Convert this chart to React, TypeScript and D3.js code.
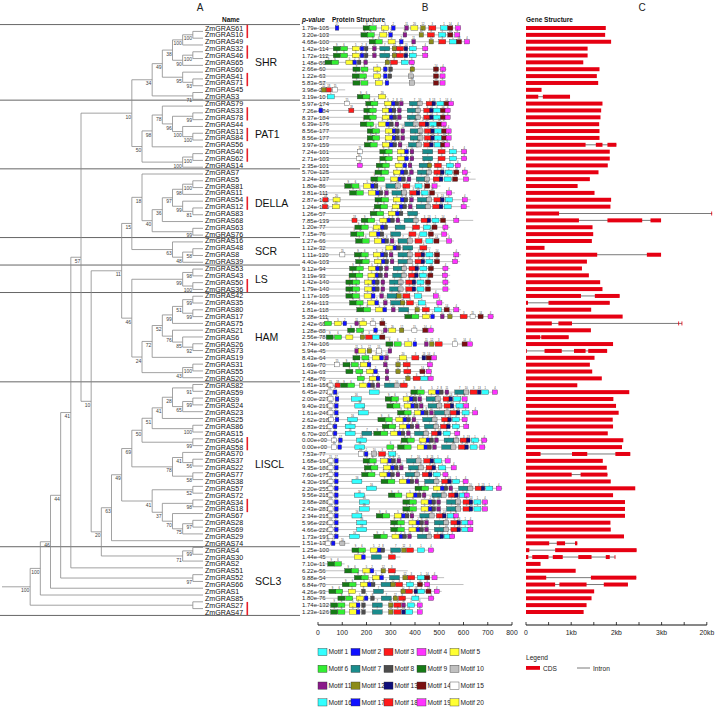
import React from "react";
import * as d3 from "d3";

const names = [
  "ZmGRAS61","ZmGRAS10","ZmGRAS49","ZmGRAS32","ZmGRAS46","ZmGRAS65","ZmGRAS60","ZmGRAS41","ZmGRAS71","ZmGRAS45","ZmGRAS3",
  "ZmGRAS79","ZmGRAS33","ZmGRAS78","ZmGRAS44","ZmGRAS13","ZmGRAS84","ZmGRAS56","ZmGRAS40","ZmGRAS62","ZmGRAS14",
  "ZmGRAS7","ZmGRAS5","ZmGRAS81","ZmGRAS11","ZmGRAS54","ZmGRAS12","ZmGRAS83","ZmGRAS68","ZmGRAS63","ZmGRAS76",
  "ZmGRAS16","ZmGRAS48","ZmGRAS8","ZmGRAS39",
  "ZmGRAS53","ZmGRAS43","ZmGRAS50","ZmGRAS36",
  "ZmGRAS42","ZmGRAS35","ZmGRAS80","ZmGRAS17","ZmGRAS75","ZmGRAS21","ZmGRAS6","ZmGRAS26","ZmGRAS73","ZmGRAS19","ZmGRAS31","ZmGRAS55","ZmGRAS20",
  "ZmGRAS82","ZmGRAS59","ZmGRAS9","ZmGRAS24","ZmGRAS23","ZmGRAS25","ZmGRAS86","ZmGRAS15","ZmGRAS64","ZmGRAS58","ZmGRAS70","ZmGRAS37","ZmGRAS22","ZmGRAS77","ZmGRAS38","ZmGRAS57","ZmGRAS72","ZmGRAS34","ZmGRAS18","ZmGRAS67","ZmGRAS28","ZmGRAS69","ZmGRAS29","ZmGRAS74",
  "ZmGRAS4","ZmGRAS30","ZmGRAS2","ZmGRAS51","ZmGRAS52","ZmGRAS66","ZmGRAS1","ZmGRAS85","ZmGRAS27","ZmGRAS47"
];

const pValues = [
  "1.79e-105","3.20e-103","4.68e-100","1.42e-114","1.72e-112","1.48e-86","2.66e-60","1.22e-63","5.83e-57","3.98e-20","3.19e-10",
  "5.97e-174","7.26e-184","8.37e-184","6.39e-176","8.56e-177","8.56e-177","3.97e-159","7.24e-101","2.71e-103","2.35e-101",
  "5.70e-125","3.24e-137","1.80e-86","3.81e-111","2.87e-148","1.24e-146","1.26e-57","7.85e-139","1.20e-77","7.15e-76",
  "1.27e-66","1.12e-32","1.11e-120","4.40e-103",
  "9.12e-94","3.19e-93","1.42e-140","1.79e-140",
  "1.17e-105","2.64e-113","1.81e-118","5.28e-111","2.42e-68","1.28e-88","2.56e-78","3.74e-106","5.94e-45","8.43e-64","1.69e-70","1.43e-63","7.48e-76",
  "1.81e-156","6.45e-272","2.00e-227","9.40e-219","1.61e-246","2.62e-218","2.83e-211","6.70e-203","0.00e+00","0.00e+00","7.53e-77","1.68e-194","4.35e-180","7.60e-175","4.30e-196","2.20e-255","9.56e-215","3.68e-280","2.43e-281","2.34e-215","5.96e-226","4.66e-226","1.73e-197","1.51e-13",
  "1.25e-100","1.44e-45","7.10e-11","6.22e-56","9.88e-54","6.84e-70","4.26e-93","1.80e-76","1.74e-132","1.23e-126"
];

const groupNames = ["SHR", "PAT1", "DELLA", "SCR", "LS", "HAM", "LISCL", "SCL3"];
const groupSizes = [11, 10, 10, 4, 4, 13, 24, 10];

const dupPairs = [
  ["ZmGRAS61","ZmGRAS10"],["ZmGRAS32","ZmGRAS46"],["ZmGRAS41","ZmGRAS71"],["ZmGRAS33","ZmGRAS78"],
  ["ZmGRAS13","ZmGRAS84"],["ZmGRAS40","ZmGRAS62"],["ZmGRAS54","ZmGRAS12"],["ZmGRAS50","ZmGRAS36"],
  ["ZmGRAS64","ZmGRAS58"],["ZmGRAS34","ZmGRAS18"],["ZmGRAS27","ZmGRAS47"]
];

// phylogeny (Newick, bootstrap values as internal labels)
const shrTree = "(((((ZmGRAS61,ZmGRAS10)100,ZmGRAS49)100,((ZmGRAS32,ZmGRAS46)100,ZmGRAS65)90)38,(ZmGRAS60,(ZmGRAS41,ZmGRAS71)93)95)49,(ZmGRAS45,ZmGRAS3)71)34";
const pat1Tree = "(((ZmGRAS79,((ZmGRAS33,ZmGRAS78)99,(ZmGRAS44,(ZmGRAS13,ZmGRAS84)100)100)96)78,ZmGRAS56)98,((ZmGRAS40,ZmGRAS62)100,ZmGRAS14)100)50";
const dellaTree = "(ZmGRAS7,(((((ZmGRAS5,ZmGRAS81)100,ZmGRAS11)98,(ZmGRAS54,(ZmGRAS12,ZmGRAS83)81)99)97,ZmGRAS68)36,(ZmGRAS63,ZmGRAS76)99)40)18";
const scrTree = "(ZmGRAS16,((ZmGRAS48,ZmGRAS8)58,ZmGRAS39)48)63";
const lsTree = "((ZmGRAS53,ZmGRAS43)98,(ZmGRAS50,ZmGRAS36)100)99";
const hamTree = "((((((ZmGRAS42,ZmGRAS35)99,(ZmGRAS80,ZmGRAS17)99)51,ZmGRAS75)99,(ZmGRAS21,(ZmGRAS6,(ZmGRAS26,ZmGRAS73)92)85)76)52,ZmGRAS19)72,((ZmGRAS31,ZmGRAS55)100,ZmGRAS20)43)24";
const lisclA = "((((((ZmGRAS82,ZmGRAS59)91,((ZmGRAS9,ZmGRAS24)99,ZmGRAS23)65)28,ZmGRAS25)41,(ZmGRAS86,ZmGRAS15)100)51,(ZmGRAS64,ZmGRAS58)99)50,((ZmGRAS70,(ZmGRAS37,ZmGRAS22)56)41,(ZmGRAS77,ZmGRAS38)58)78)69";
const lisclB = "((ZmGRAS57,ZmGRAS72)52,((ZmGRAS34,ZmGRAS18)98,(ZmGRAS67,((ZmGRAS28,ZmGRAS69)97,ZmGRAS29)75)70)37)41";
const scl3a = "((ZmGRAS4,ZmGRAS30)99,ZmGRAS2)71";
const newick =
  "((((((((" + shrTree + "," + pat1Tree + ")10,(((" + dellaTree + "," + scrTree + ")15,(" + lsTree + "," + hamTree + ")46)11,(((" +
  lisclA + "," + lisclB + ")49,ZmGRAS74)63," + scl3a + ")20)10)57,ZmGRAS51)41,(ZmGRAS52,ZmGRAS66)97)44,ZmGRAS1)46,ZmGRAS85)100,(ZmGRAS27,ZmGRAS47))100";

// protein lengths (aa) and motif positions (motif:start)
const proteinLengths = [
  590,586,627,455,455,400,530,525,525,112,285,560,545,545,530,550,550,545,615,615,590,
  630,650,505,565,630,625,420,640,545,540,560,465,590,585,545,545,545,545,505,520,590,725,
  285,480,300,640,305,490,475,470,475,373,742,615,622,660,615,622,585,700,692,330,545,570,
  540,620,760,625,700,700,580,640,640,565,130,480,340,110,370,520,600,510,480,430,430
];

const motifSites = [
  "17:71 9:186 6:211 5:262 2:303 11:358 20:383 12:424 3:457 1:505 14:535 4:567",
  "9:177 6:203 5:255 2:292 11:351 12:417 3:451 1:498 14:535 4:564",
  "9:211 6:236 5:289 2:336 11:387 12:458 3:498 1:542 14:571 4:604",
  "9:63 6:93 5:141 2:174 8:191 11:225 7:255 12:306 3:324 13:355 1:376 4:432",
  "9:63 6:93 5:141 2:174 8:191 11:225 7:255 12:306 3:324 13:355 1:376 4:432",
  "9:29 6:56 5:115 2:144 8:162 11:189 12:277 3:299 1:343 4:376",
  "9:144 6:177 5:230 2:270 8:292 12:380 14:476 4:505",
  "9:141 6:171 5:230 2:270 8:289 10:373 14:476 4:503",
  "9:144 6:177 5:236 2:277 10:377 14:476 4:503",
  "12:15 18:34 15:60",
  "1:38 9:162 6:185 20:250",
  "15:109 9:197 6:218 5:274 2:303 8:318 11:336 7:377 10:409 3:446 13:470 1:490 14:520 4:538",
  "17:4 18:127 9:189 6:211 5:265 2:292 8:306 11:328 7:368 10:402 3:436 13:460 1:476 14:505 4:524",
  "9:189 6:211 5:265 2:295 8:309 11:328 7:368 10:402 3:436 13:460 1:476 14:505 4:524",
  "9:174 6:200 5:250 2:280 8:295 11:318 7:358 10:392 3:417 13:442 1:461 14:490 4:508",
  "9:203 6:225 5:277 2:306 8:320 11:342 7:380 10:412 3:439 13:465 1:480 14:510 4:528",
  "9:203 6:225 5:277 2:306 8:320 11:342 7:380 10:412 3:439 13:465 1:480 14:510 4:528",
  "9:191 6:215 5:265 2:295 8:309 11:331 7:373 10:405 3:436 13:460 1:480 14:505 4:522",
  "15:162 9:255 6:277 5:328 2:358 11:380 7:432 3:495 1:542 4:592",
  "15:159 9:255 6:277 5:328 2:358 11:380 7:432 3:495 1:542 4:592",
  "19:162 9:240 6:265 5:318 2:351 11:372 7:417 12:451 3:480 1:530 4:566",
  "9:235 6:262 5:310 2:340 8:355 11:378 7:410 10:448 3:478 13:505 1:525 14:560 4:595",
  "9:218 6:245 5:300 2:330 8:345 11:368 7:405 10:440 3:475 13:500 1:520 14:555 4:600",
  "9:110 6:140 5:188 2:218 8:232 7:280 10:318 3:350 1:400 14:440 4:470",
  "9:130 6:158 5:208 2:238 8:252 11:275 7:305 10:345 3:378 13:405 1:425 14:460 4:530",
  "18:20 20:62 9:235 6:262 5:310 2:340 8:355 11:378 7:410 10:448 3:478 13:505 1:525 4:595",
  "18:18 20:60 9:232 6:258 5:306 2:336 8:350 11:373 7:405 10:443 3:473 13:500 1:520 4:590",
  "9:215 6:242 5:290 2:320 8:335 7:370",
  "18:140 9:178 6:205 5:255 2:285 8:300 11:322 7:355 10:392 3:425 13:450 1:470 14:505 4:560",
  "9:152 6:178 5:228 2:258 8:272 7:318 3:390 1:435 14:470 4:515",
  "9:135 6:160 5:212 2:242 8:256 7:300 3:375 1:420 14:455 4:510",
  "9:155 6:182 5:232 2:262 8:276 11:298 7:330 10:368 3:400 1:445 14:478 4:530",
  "5:280 2:310 8:325 7:350 3:420",
  "15:90 9:150 6:178 5:228 2:258 8:272 11:294 7:330 10:368 3:400 13:425 1:445 14:480 4:560",
  "9:155 6:182 5:232 2:262 8:276 11:298 7:330 10:368 3:400 13:425 1:445 14:480 4:555",
  "9:130 6:158 5:208 2:238 8:252 11:275 7:310 10:345 3:375 13:400 1:420 14:455 4:515",
  "9:128 6:156 5:206 2:236 8:250 11:273 7:308 10:343 3:373 13:398 1:418 14:453 4:513",
  "9:115 6:143 5:193 2:223 8:237 11:260 7:295 10:330 3:362 13:388 1:408 14:443 4:515",
  "9:115 6:143 5:193 2:223 8:237 11:260 7:295 10:330 3:362 13:388 1:408 14:443 4:515",
  "9:115 6:142 5:190 2:220 11:255 7:285 12:325 3:350 1:398 4:475",
  "9:130 6:157 5:205 2:235 11:270 7:300 12:340 3:365 1:413 4:490",
  "9:160 6:188 5:238 2:268 11:303 7:333 12:400 3:430 1:480 14:520 4:560",
  "9:358 6:387 5:431 2:465 11:505 12:535 3:586 15:627 14:660 4:701",
  "6:27 5:68 2:103 11:152 20:172 15:215 14:255",
  "9:122 6:159 2:230 11:270 20:292 12:336 15:387 14:432 4:454",
  "9:34 6:68 5:115 12:174 3:196 1:225 14:255",
  "9:280 6:314 5:358 2:392 11:439 12:460 3:483 15:554 14:594 4:616",
  "11:152 5:166 12:203 15:240 11:289",
  "9:144 6:181 5:225 2:255 11:275 20:336 3:387 13:429 14:446 4:468",
  "15:68 9:103 6:137 5:174 2:203 11:270 12:321 3:351 4:451",
  "9:115 6:156 5:200 2:230 11:277 12:321 3:354 14:420 4:446",
  "6:162 5:211 2:240 11:277 12:362 3:392 1:424 4:454",
  "15:41 18:70 9:93 6:122 5:171 2:203 8:218 11:240 7:274 10:314 3:339",
  "15:38 17:63 16:211 9:383 6:409 5:456 2:486 8:501 11:524 7:564 10:601 3:627 13:657 1:675 4:719",
  "15:41 17:71 16:137 9:277 6:303 5:351 2:377 8:392 11:412 7:446 10:483 3:516 13:540 1:560 4:594",
  "15:41 17:68 16:152 9:284 6:309 5:355 2:383 8:398 11:418 7:454 10:490 3:520 13:545 1:569 4:601",
  "15:41 17:68 16:166 9:328 6:355 5:398 2:424 8:439 11:460 7:480 10:522 3:545 13:570 1:594 4:638",
  "15:44 17:71 16:122 9:247 6:277 5:321 2:351 8:366 11:388 7:432 10:470 3:510 13:535 1:554 4:594",
  "15:38 17:63 16:112 9:265 6:292 5:336 2:365 8:380 11:402 7:439 10:476 3:505 13:530 1:554 4:601",
  "15:38 17:63 16:112 7:181 9:230 6:259 5:300 2:328 8:343 11:365 7:398 10:435 3:468 13:493 1:516 4:564",
  "15:56 17:85 16:159 9:343 6:368 5:417 2:446 8:461 11:481 7:520 10:560 3:586 13:612 1:633 4:675",
  "15:56 17:82 16:152 6:284 9:328 6:355 5:409 2:437 8:452 11:473 7:510 10:548 3:579 13:605 1:627 4:667",
  "15:166 2:191 10:221 3:250 1:292",
  "15:41 17:68 9:186 6:211 5:259 2:289 8:304 11:326 7:365 10:404 3:436 13:462 1:480 4:524",
  "15:41 17:68 9:191 6:218 5:271 2:300 8:315 11:336 7:373 10:414 3:446 13:470 1:498 4:549",
  "15:41 17:68 9:180 6:206 5:255 2:285 8:300 11:322 7:360 10:398 3:430 13:455 1:475 4:515",
  "15:41 17:68 16:140 9:260 6:288 5:335 2:365 8:380 11:400 7:440 10:478 3:510 13:535 1:555 4:598",
  "15:41 17:68 16:200 9:400 6:427 5:475 2:505 8:520 11:540 7:580 10:618 3:648 13:673 1:692 4:735",
  "15:41 17:68 16:150 9:290 6:317 5:365 2:395 8:410 11:430 7:470 10:508 3:538 13:563 1:583 4:603",
  "15:41 17:68 16:170 9:350 6:377 5:425 2:455 8:470 11:490 7:530 10:568 3:598 13:623 1:643 4:678",
  "15:41 17:68 16:170 9:350 6:377 5:425 2:455 8:470 11:490 7:530 10:568 3:598 13:623 1:643 4:678",
  "15:41 17:68 16:140 9:240 6:267 5:315 2:345 8:360 11:380 7:420 10:458 3:488 13:513 1:533 4:558",
  "15:41 17:68 16:160 9:300 6:327 5:375 2:405 8:420 11:440 7:480 10:518 3:548 13:573 1:593 4:618",
  "15:41 17:68 16:160 9:300 6:327 5:375 2:405 8:420 11:440 7:480 10:518 3:548 13:573 1:593 4:618",
  "15:41 17:68 16:130 9:230 6:257 5:305 2:335 8:350 11:370 7:410 10:448 3:478 13:503 1:520 4:543",
  "15:30 17:55 10:90",
  "9:140 6:167 5:215 2:245 8:260 7:300 12:345 3:365 1:410 4:455",
  "5:150 2:180 7:220 3:290",
  "9:40 6:68",
  "9:110 6:138 5:185 2:215 12:260 3:290",
  "9:150 6:178 5:225 2:255 7:295 12:350 3:370 1:410 14:440 4:470",
  "9:100 6:128 5:175 2:205 8:220 7:260 12:300 3:320 1:365 14:410 4:440",
  "9:45 6:73 5:126 8:180 7:229 12:342 3:361 13:396 1:411 14:445 4:479",
  "9:82 6:114 5:158 2:191 8:217 7:261 12:310 3:332 1:387 4:456",
  "9:52 6:82 5:129 2:158 8:180 7:224 12:291 3:313 11:345 1:369 4:409",
  "9:52 6:82 5:129 2:158 8:180 7:224 12:291 3:313 13:345 1:362 4:409"
];

const motifWidths = [29,15,29,21,29,29,41,15,29,21,15,18,15,21,21,41,15,21,21,29];
const motifColors = [
  "#33ffff","#1010ff","#ff1a1a","#ff33ff","#ffff33","#33ee33","#1a8c8c","#4d4d4d","#167a16","#c0c0c0",
  "#8a1a8a","#8c8c1a","#10107a","#7a1010","#ffffff","#33ffff","#1010ff","#ff1a1a","#ff33ff","#ffff33"
];

// gene structures: exons (CDS) in bp, "start-end" joined by commas; gaps are introns
const geneExons = [
  "0-1765","0-1751","0-1883","0-1363","0-1363","0-1267","0-1626","0-1567","0-1597","0-344","0-271,373-974",
  "0-1692","0-1663","0-1648","0-1619","0-1626","0-1626","0-1318,1545-1692,1802-2000","0-1853","0-1853","0-1809",
  "0-1604","0-1413","0-1142","0-1516","0-1883","0-1868","0-732,21700-22000","0-1171,1802-2571,2754-2988","0-1472","0-1487",
  "0-1457","0-410","0-1575,2674-2988","0-1348",
  "0-1238","0-1391","0-1641","0-1692",
  "0-1216,1523-2072","0-44,498-1853","0-1442","0-2138","0-571,717-1018,9280-9500,10500-10660","0-1436","0-315,337-945","0-1926","0-15,410-791,1062-1318,1377-1795","0-1516","0-1413","0-1465","0-1677",
  "0-1135","0-2285","0-1933","0-1992","0-2050","0-1919","0-1926","0-1809","0-2153","0-2124","0-322,1018-1355,1977-2307","0-1699","0-1787","0-1011,1208-1802","0-1875","0-2417","0-1926","0-2190","0-2190","0-2190","0-1868","0-1875","0-2168","0-513,681-864,1084-1135",
  "0-73,645-2447","0-51,139-498,593-813,1157-1450,1765-1853,1960-1977","0-322","0-1099","0-447,1436-2440","0-644,739-1340,1721-2255","0-1508","0-1450","0-1340","0-1275"
];

const proteinTicks = [0, 100, 200, 300, 400, 500, 600, 700, 800];
const geneTicks = [0, 500, 1000, 1500, 2000, 2500, 3000, 11500, 20000];
const geneTickLabels: Record<number, string> = { 0: "0", 1000: "1kb", 2000: "2kb", 3000: "3kb", 20000: "20kb" };

type TNode = { name?: string; label?: string; children?: TNode[] };
function parseNewick(s: string): TNode {
  let i = 0;
  function parse(): TNode {
    const node: TNode = {};
    if (s[i] === "(") {
      i++;
      node.children = [parse()];
      while (s[i] === ",") { i++; node.children.push(parse()); }
      i++;
    }
    const start = i;
    while (i < s.length && !",()".includes(s[i])) i++;
    const tok = s.slice(start, i);
    if (node.children) node.label = tok; else node.name = tok;
    return node;
  }
  return parse();
}

const FONT = "'Liberation Sans', Arial, Helvetica, sans-serif";

export default function App() {
  const W = 715, H = 722;
  const y = d3.scalePoint<string>().domain(names).range([28, 612]);
  const rowStep = y.step();
  const xProt = d3.scaleLinear().domain([0, 800]).range([318, 512]);
  const xGene = d3.scaleLinear().domain([0, 1000, 2000, 3000, 20000]).range([526, 571.2, 616.4, 661.6, 706.8]);
  const axisY = 625;

  // tree layout (cladogram: node depth from height)
  const root = d3.hierarchy<TNode>(parseNewick(newick));
  const leafX = 203, rootX = 20;
  d3.cluster<TNode>().size([y(names[names.length - 1])! - y(names[0])!, leafX - rootX]).separation(() => 1)(root);
  const TX = (n: any) => rootX + n.y;
  const TY = (n: any) => y(names[0])! + n.x;

  const treeLines: JSX.Element[] = [];
  const bootLabels: JSX.Element[] = [];
  let k = 0;
  root.each((n: any) => {
    if (n.children) {
      const c0 = n.children[0], c1 = n.children[n.children.length - 1];
      treeLines.push(<line key={"v" + k++} x1={TX(n)} x2={TX(n)} y1={TY(c0)} y2={TY(c1)} />);
      n.children.forEach((c: any) => {
        treeLines.push(<line key={"h" + k++} x1={TX(n)} x2={TX(c)} y1={TY(c)} y2={TY(c)} />);
      });
      if (n.data.label) {
        bootLabels.push(
          <text key={"b" + k++} x={TX(n) - 0.8} y={TY(n) + 5.6} textAnchor="end">{n.data.label}</text>
        );
      }
    }
  });
  treeLines.push(<line key="rootstub" x1={2} x2={TX(root)} y1={TY(root)} y2={TY(root)} />);

  // group separators
  const bounds: number[] = [];
  let acc = 0;
  groupSizes.forEach((s) => { acc += s; bounds.push(acc); });
  const sepYs = [y(names[0])! - rowStep / 2, ...bounds.map((b) => y(names[b - 1])! + rowStep / 2)];
  let start = 0;
  const groupLabelPos = groupSizes.map((s, gi) => {
    const a = y(names[start])!, b = y(names[start + s - 1])!;
    start += s;
    return { name: groupNames[gi], y: (a + b) / 2 };
  });

  const boxH = 4.4;

  return (
    <svg width={W} height={H} style={{ position: "absolute", left: 0, top: 0, background: "#fff" }} fontFamily={FONT}>
      <rect x={0} y={0} width={W} height={H} fill="#fff" />
      {/* panel letters */}
      <g fontSize={10} fill="#222" textAnchor="middle">
        <text x={200} y={11}>A</text>
        <text x={425} y={11}>B</text>
        <text x={642} y={11}>C</text>
      </g>
      {/* headers */}
      <g fontSize={6.5} fontWeight="bold" fill="#111">
        <text x={222} y={22}>Name</text>
        <text x={302} y={22} fontStyle="italic">p-value</text>
        <text x={332} y={22}>Protein Structure</text>
        <text x={526} y={22}>Gene Structure</text>
      </g>
      {/* separators */}
      <g stroke="#555" strokeWidth={0.9}>
        {sepYs.map((sy, i) => <line key={i} x1={0} x2={300} y1={sy} y2={sy} />)}
      </g>
      {/* tree */}
      <g stroke="#8a8a8a" strokeWidth={0.8}>{treeLines}</g>
      <g fontSize={5} fill="#444">{bootLabels}</g>
      {/* names */}
      <g fontSize={7.1} fill="#111">
        {names.map((n) => <text key={n} x={205} y={y(n)! + 2.5}>{n}</text>)}
      </g>
      {/* duplication bars */}
      <g fill="#e8202a">
        {dupPairs.map(([a, b]) => (
          <rect key={a} x={246.5} y={y(a)! - 3.2} width={1.6} height={y(b)! - y(a)! + 6.4} />
        ))}
      </g>
      {/* group labels */}
      <g fontSize={10.5} fill="#111">
        {groupLabelPos.map((g) => <text key={g.name} x={255} y={g.y + 3.8}>{g.name}</text>)}
      </g>
      {/* p-values */}
      <g fontSize={6} fill="#222">
        {names.map((n, i) => <text key={n} x={302} y={y(n)! + 2.2}>{pValues[i]}</text>)}
      </g>
      {/* protein structures */}
      <g>
        {names.map((n, i) => {
          const yy = y(n)!;
          const sites = motifSites[i].split(" ").map((t) => t.split(":").map(Number));
          return (
            <g key={n}>
              <line x1={xProt(0)} x2={xProt(proteinLengths[i])} y1={yy} y2={yy} stroke="#b0b0b0" strokeWidth={0.8} />
              {sites.map(([m, p], j) => (
                <rect key={j} x={xProt(p)} y={yy - boxH / 2} width={xProt(p + motifWidths[m - 1]) - xProt(p)} height={boxH}
                  fill={motifColors[m - 1]} stroke="#333" strokeWidth={0.35} />
              ))}
              {sites.map(([m, p], j) => (
                <text key={"t" + j} x={(xProt(p) + xProt(p + motifWidths[m - 1])) / 2} y={yy - 2.7} fontSize={2.6} fill="#333" textAnchor="middle">{m}</text>
              ))}
            </g>
          );
        })}
      </g>
      {/* protein axis */}
      <g>
        <line x1={xProt(0)} x2={xProt(800)} y1={axisY} y2={axisY} stroke="#111" strokeWidth={1} />
        {proteinTicks.map((t) => (
          <g key={t}>
            <line x1={xProt(t)} x2={xProt(t)} y1={axisY - 3} y2={axisY} stroke="#111" strokeWidth={0.8} />
            <text x={xProt(t)} y={axisY + 10} fontSize={6.8} textAnchor="middle" fill="#222">{t}</text>
          </g>
        ))}
      </g>
      {/* gene structures */}
      <g>
        {names.map((n, i) => {
          const yy = y(n)!;
          const ex = geneExons[i].split(",").map((s) => s.split("-").map(Number));
          const end = ex[ex.length - 1][1];
          return (
            <g key={n}>
              {ex.length > 1 && <line x1={xGene(ex[0][0])} x2={xGene(end)} y1={yy} y2={yy} stroke="#7a7a7a" strokeWidth={1} />}
              {ex.map(([a, b], j) => (
                <rect key={j} x={xGene(a)} y={yy - 2} width={Math.max(0.8, xGene(b) - xGene(a))} height={4} fill="#e60012" />
              ))}
            </g>
          );
        })}
      </g>
      {/* gene axis */}
      <g>
        <line x1={xGene(0)} x2={xGene(20000)} y1={axisY} y2={axisY} stroke="#111" strokeWidth={1} />
        {geneTicks.map((t) => (
          <g key={t}>
            <line x1={xGene(t)} x2={xGene(t)} y1={axisY - 3} y2={axisY} stroke="#111" strokeWidth={0.8} />
            {geneTickLabels[t] !== undefined && (
              <text x={xGene(t)} y={axisY + 10} fontSize={6.8} textAnchor="middle" fill="#222">{geneTickLabels[t]}</text>
            )}
          </g>
        ))}
      </g>
      {/* motif legend */}
      <g fontSize={6.6} fill="#222">
        {motifColors.map((c, i) => {
          const col = i % 5, row = Math.floor(i / 5);
          const lx = 318 + col * 33, ly = 652 + row * 16.8;
          return (
            <g key={i}>
              <rect x={lx} y={ly - 3.6} width={9} height={7.2} fill={c} stroke="#333" strokeWidth={0.4} />
              <text x={lx + 10.5} y={ly + 2.4}>{"Motif " + (i + 1)}</text>
            </g>
          );
        })}
      </g>
      {/* gene legend */}
      <g fontSize={6.6} fill="#222">
        <text x={526} y={660}>Legend</text>
        <rect x={526} y={666} width={14} height={3.8} fill="#e60012" />
        <text x={543} y={670.5}>CDS</text>
        <line x1={577} x2={590} y1={668} y2={668} stroke="#7a7a7a" strokeWidth={1} />
        <text x={593} y={670.5}>Intron</text>
      </g>
    </svg>
  );
}
